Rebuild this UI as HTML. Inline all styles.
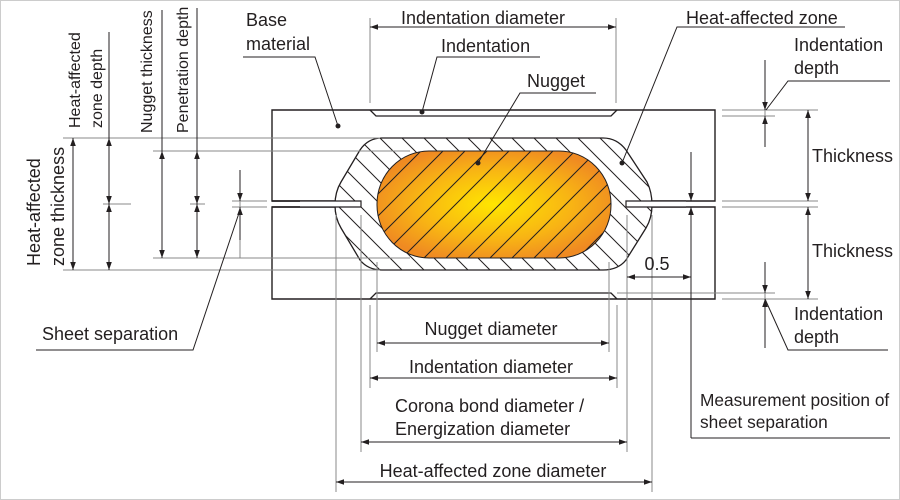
<!DOCTYPE html>
<html><head><meta charset="utf-8"><style>
html,body{margin:0;padding:0;background:#fff}
svg{display:block}
text{font-family:"Liberation Sans",Arial,sans-serif;font-size:18px;fill:#231f20}
</style></head><body>
<svg width="900" height="500" viewBox="0 0 900 500" xmlns="http://www.w3.org/2000/svg">
<defs>
<marker id="a" viewBox="0 0 10 10" refX="10" refY="5" markerWidth="8" markerHeight="8" markerUnits="userSpaceOnUse" orient="auto-start-reverse"><path d="M0,1.5 L10,5 L0,8.5 Z" fill="#231f20"/></marker>
<radialGradient id="g" cx="0.5" cy="0.5" r="0.55">
<stop offset="0" stop-color="#ffe600"/><stop offset="0.6" stop-color="#f8b414"/><stop offset="1" stop-color="#ef8a22"/></radialGradient>
<pattern id="hb" width="22" height="22" patternUnits="userSpaceOnUse"><path d="M-2,-2 L24,24 M-13,9 L2,24 M9,-13 L24,2" stroke="#231f20" stroke-width="1"/></pattern>
<pattern id="hf" width="22" height="22" patternUnits="userSpaceOnUse"><path d="M-2,24 L24,-2 M-13,13 L2,-2 M9,35 L24,20" stroke="#231f20" stroke-width="1"/></pattern>
</defs>
<rect x="0.5" y="0.5" width="899" height="499" fill="#fff" stroke="#ccc"/>

<g stroke="#231f20" stroke-width="1.4" fill="#fff">
<path d="M272,110 L715,110 L715,201 L272,201 Z"/>
<path d="M272,207 L715,207 L715,299 L272,299 Z"/>
</g>
<path d="M370,110 L376,116 L611,116 L617,110" fill="none" stroke="#231f20" stroke-width="1.3"/>
<path d="M370,299 L376,293 L611,293 L617,299" fill="none" stroke="#231f20" stroke-width="1.3"/>

<path d="M382,138 L603,138 Q617,138 626,150 L647,182 Q652,192 652,205 Q652,218 646,228 L626,260 Q618,270 603,270 L382,270 Q368,270 360,260 L341,228 Q335,218 335,205 Q335,192 341,182 L360,150 Q368,138 382,138 Z" fill="#fff" stroke="#231f20" stroke-width="1.3"/>
<path d="M382,138 L603,138 Q617,138 626,150 L647,182 Q652,192 652,205 Q652,218 646,228 L626,260 Q618,270 603,270 L382,270 Q368,270 360,260 L341,228 Q335,218 335,205 Q335,192 341,182 L360,150 Q368,138 382,138 Z" fill="url(#hb)"/>
<rect x="377" y="151" width="234" height="107" rx="52" ry="53" fill="url(#g)" stroke="#231f20" stroke-width="1"/>
<rect x="377" y="151" width="234" height="107" rx="52" ry="53" fill="url(#hf)"/>
<rect x="300" y="201" width="61" height="6" fill="#fff"/>
<rect x="626" y="201" width="60" height="6" fill="#fff"/>
<path d="M300,201 L361,201 L361,207 L300,207" fill="none" stroke="#231f20" stroke-width="1.2"/>
<path d="M686,201 L626,201 L626,207 L686,207" fill="none" stroke="#231f20" stroke-width="1.2"/>
<line x1="272" y1="201" x2="300" y2="201" stroke="#231f20" stroke-width="1.4"/>
<line x1="272" y1="207" x2="300" y2="207" stroke="#231f20" stroke-width="1.4"/>

<g stroke="#888" stroke-width="1" fill="none">
<line x1="63" y1="138" x2="380" y2="138"/>
<line x1="63" y1="270" x2="380" y2="270"/>
<line x1="153" y1="151" x2="410" y2="151"/>
<line x1="153" y1="258" x2="410" y2="258"/>
<line x1="103" y1="204" x2="131" y2="204"/>
<line x1="190" y1="204" x2="205" y2="204"/>
<line x1="232" y1="201" x2="267" y2="201"/>
<line x1="232" y1="207" x2="267" y2="207"/>
<line x1="370" y1="18" x2="370" y2="103"/>
<line x1="616" y1="18" x2="616" y2="103"/>
<line x1="722" y1="110" x2="818" y2="110"/>
<line x1="722" y1="116" x2="775" y2="116"/>
<line x1="722" y1="201" x2="818" y2="201"/>
<line x1="722" y1="207" x2="818" y2="207"/>
<line x1="617" y1="293" x2="775" y2="293"/>
<line x1="722" y1="299" x2="818" y2="299"/>
<line x1="377" y1="262" x2="377" y2="352"/>
<line x1="609" y1="262" x2="609" y2="352"/>
<line x1="370" y1="305" x2="370" y2="388"/>
<line x1="617" y1="305" x2="617" y2="388"/>
<line x1="361" y1="215" x2="361" y2="452"/>
<line x1="627" y1="215" x2="627" y2="452"/>
<line x1="336" y1="215" x2="336" y2="492"/>
<line x1="652" y1="215" x2="652" y2="492"/>
<line x1="240" y1="170" x2="240" y2="258"/>
<line x1="765" y1="60" x2="765" y2="147"/>
<line x1="765" y1="262" x2="765" y2="348"/>
</g>

<g stroke="#231f20" stroke-width="1" fill="none">
<line x1="73" y1="138" x2="73" y2="270" marker-start="url(#a)" marker-end="url(#a)"/>
<line x1="109" y1="32" x2="109" y2="138"/>
<line x1="109" y1="138" x2="109" y2="204" marker-start="url(#a)" marker-end="url(#a)"/>
<line x1="109" y1="204" x2="109" y2="270" marker-start="url(#a)" marker-end="url(#a)"/>
<line x1="162" y1="10" x2="162" y2="151"/>
<line x1="162" y1="151" x2="162" y2="258" marker-start="url(#a)" marker-end="url(#a)"/>
<line x1="197" y1="8" x2="197" y2="151"/>
<line x1="197" y1="151" x2="197" y2="204" marker-start="url(#a)" marker-end="url(#a)"/>
<line x1="197" y1="204" x2="197" y2="258" marker-start="url(#a)" marker-end="url(#a)"/>
<line x1="240" y1="170" x2="240" y2="201" marker-end="url(#a)"/>
<line x1="240" y1="240" x2="240" y2="207" marker-end="url(#a)"/>
<line x1="370" y1="27" x2="616" y2="27" marker-start="url(#a)" marker-end="url(#a)"/>
<line x1="765" y1="60" x2="765" y2="110" marker-end="url(#a)"/>
<line x1="765" y1="147" x2="765" y2="116" marker-end="url(#a)"/>
<line x1="808" y1="110" x2="808" y2="201" marker-start="url(#a)" marker-end="url(#a)"/>
<line x1="808" y1="207" x2="808" y2="299" marker-start="url(#a)" marker-end="url(#a)"/>
<line x1="765" y1="262" x2="765" y2="293" marker-end="url(#a)"/>
<line x1="765" y1="348" x2="765" y2="299" marker-end="url(#a)"/>
<line x1="691" y1="152" x2="691" y2="201" marker-end="url(#a)"/>
<line x1="691" y1="438" x2="691" y2="207" marker-end="url(#a)"/>
<line x1="691" y1="438" x2="890" y2="438"/>
<line x1="627" y1="277" x2="691" y2="277" marker-start="url(#a)" marker-end="url(#a)"/>
<line x1="377" y1="343" x2="609" y2="343" marker-start="url(#a)" marker-end="url(#a)"/>
<line x1="370" y1="378" x2="617" y2="378" marker-start="url(#a)" marker-end="url(#a)"/>
<line x1="361" y1="442" x2="627" y2="442" marker-start="url(#a)" marker-end="url(#a)"/>
<line x1="336" y1="482" x2="652" y2="482" marker-start="url(#a)" marker-end="url(#a)"/>
</g>

<g stroke="#231f20" stroke-width="1" fill="none">
<path d="M243,57 L315,57 L338,126"/>
<path d="M540,57 L437,57 L422,112"/>
<path d="M596,93 L520,93 L478,163"/>
<path d="M845,27 L677,27 L622,163"/>
<path d="M890,81 L788,81 L766,110"/>
<path d="M888,350 L788,350 L765,299"/>
<path d="M36,350 L193,350 L240,210"/>
</g>
<g fill="#231f20">
<circle cx="338" cy="126" r="2.5"/><circle cx="422" cy="112" r="2.5"/>
<circle cx="478" cy="163" r="2.5"/><circle cx="622" cy="163" r="2.5"/>
</g>

<text x="246" y="26">Base</text>
<text x="246" y="50">material</text>
<text x="483" y="24" text-anchor="middle">Indentation diameter</text>
<text x="441" y="52">Indentation</text>
<text x="527" y="87">Nugget</text>
<text x="686" y="24">Heat-affected zone</text>
<text x="794" y="51">Indentation</text>
<text x="794" y="74">depth</text>
<text x="812" y="162">Thickness</text>
<text x="812" y="257">Thickness</text>
<text x="657" y="270" text-anchor="middle">0.5</text>
<text x="794" y="320">Indentation</text>
<text x="794" y="343">depth</text>
<text x="700" y="406" style="font-size:17.3px">Measurement position of</text>
<text x="700" y="428" style="font-size:17.3px">sheet separation</text>
<text x="42" y="340">Sheet separation</text>
<text x="491" y="335" text-anchor="middle">Nugget diameter</text>
<text x="491" y="373" text-anchor="middle">Indentation diameter</text>
<text x="395" y="412">Corona bond diameter /</text>
<text x="395" y="435">Energization diameter</text>
<text x="493" y="477" text-anchor="middle">Heat-affected zone diameter</text>
<text transform="translate(80,128) rotate(-90)" style="font-size:16px">Heat-affected</text>
<text transform="translate(102,128) rotate(-90)" style="font-size:16px">zone depth</text>
<text transform="translate(152,133) rotate(-90)" style="font-size:16px">Nugget thickness</text>
<text transform="translate(188,133) rotate(-90)" style="font-size:16px">Penetration depth</text>
<text transform="translate(40,266) rotate(-90)">Heat-affected</text>
<text transform="translate(64,266) rotate(-90)">zone thickness</text>
</svg>
</body></html>
